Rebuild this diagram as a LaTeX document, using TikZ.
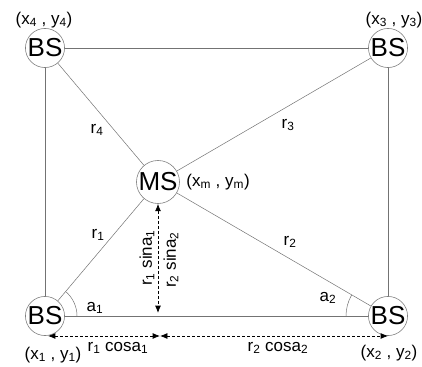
\documentclass[tikz,border=0pt]{standalone}
\usepackage{fontspec}
\setmainfont{Liberation Sans}
\usetikzlibrary{arrows.meta}

\begin{document}
\begin{tikzpicture}[
    x=1pt, y=1pt,
    >={Latex[length=2.6mm, width=2.1mm]},
    stn/.style = {circle, draw=black!50, line width=0.6pt, minimum size=38pt,
                  inner sep=0pt, font=\fontsize{26}{26}\selectfont},
    lnk/.style = {draw=black!55, line width=0.5pt},
    dimarr/.style = {<->, dash pattern=on 3pt off 2pt, line width=0.8pt},
    lab/.style = {font=\fontsize{17}{17}\selectfont, inner sep=0pt}
  ]
  \useasboundingbox (0,0) rectangle (422,366);

  % --- stations ---
  \node[stn] (BS1) at (45,50)   {BS};
  \node[stn] (BS2) at (388,50)  {BS};
  \node[stn] (BS3) at (388,318) {BS};
  \node[stn] (BS4) at (45,318)  {BS};
  \node[stn] (MS)  at (158,184) {MS};

  % --- links ---
  \draw[lnk] (BS4) -- (BS3);
  \draw[lnk] (BS4) -- (BS1);
  \draw[lnk] (BS3) -- (BS2);
  \draw[lnk] (BS1) -- (BS2);
  \draw[lnk] (BS1) -- (MS);
  \draw[lnk] (BS2) -- (MS);
  \draw[lnk] (BS3) -- (MS);
  \draw[lnk] (BS4) -- (MS);

  % --- angles ---
  \draw[lnk] ([shift={(0:32pt)}]BS1.center) arc[start angle=0, end angle=50, radius=32pt];
  \draw[lnk] ([shift={(180:42pt)}]BS2.center) arc[start angle=180, end angle=150, radius=42pt];
  \node[lab] (a1) at (95,58) {a\textsubscript{1}};
  \node[lab] (a2) at (328,68) {a\textsubscript{2}};

  % --- distances ---
  \node[lab] (r1) at (98,131) {r\textsubscript{1}};
  \node[lab] (r2) at (290,124) {r\textsubscript{2}};
  \node[lab] (r3) at (288,241) {r\textsubscript{3}};
  \node[lab] (r4) at (97,236) {r\textsubscript{4}};

  % --- projections (dashed) ---
  \coordinate (h0) at (48,30);
  \coordinate (hm) at (160,30);
  \coordinate (h2) at (388,30);
  \coordinate (vb) at (158,53);
  \draw[dimarr] (h0) -- (hm);
  \draw[dimarr] (hm) -- (h2);
  \draw[dimarr] (MS.south) -- (vb);
  \node[lab] (c1) at (118,18) {r\textsubscript{1} cosa\textsubscript{1}};
  \node[lab] (c2) at (278,18) {r\textsubscript{2} cosa\textsubscript{2}};
  \node[lab, rotate=90] (s1) at (147,108) {r\textsubscript{1} sina\textsubscript{1}};
  \node[lab, rotate=90] (s2) at (171,106) {r\textsubscript{2} sina\textsubscript{2}};

  % --- coordinates ---
  \node[lab] (p1) at (53,11)   {(x\textsubscript{1} , y\textsubscript{1})};
  \node[lab] (p2) at (389,13)  {(x\textsubscript{2} , y\textsubscript{2})};
  \node[lab] (p3) at (394,346) {(x\textsubscript{3} , y\textsubscript{3})};
  \node[lab] (p4) at (44,346)  {(x\textsubscript{4} , y\textsubscript{4})};
  \node[lab] (pm) at (218,184) {(x\textsubscript{m} , y\textsubscript{m})};

\end{tikzpicture}
\end{document}
